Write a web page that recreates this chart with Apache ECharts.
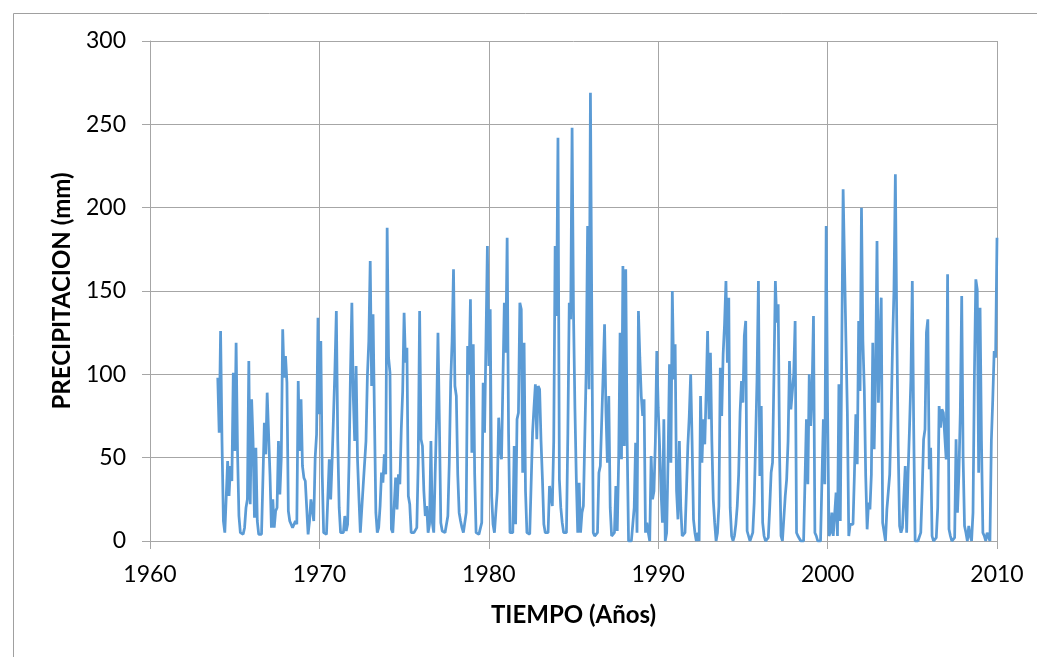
<!DOCTYPE html>
<html>
<head>
<meta charset="utf-8">
<script src="https://cdn.jsdelivr.net/npm/echarts@6/dist/echarts.min.js"></script>
<style>
  html, body { margin: 0; padding: 0; background: #fff; }
  #chart { width: 1037px; height: 657px; }
</style>
</head>
<body>
<div id="chart"></div>
<script>
  // precipitacion mensual (mm), desde enero 1964
  var startYear = 1964;
  var p1964_69 = [
    98, 65, 126, 60, 12, 5, 4, 48, 27, 45, 36, 101,
    54, 119, 54, 15, 5, 4, 4, 8, 20, 25, 108, 22,
    85, 60, 14, 56, 12, 4, 4, 4, 5, 71, 52, 89,
    88, 40, 8, 25, 8, 18, 20, 60, 28, 50, 127, 98,
    111, 95, 18, 12, 12, 8, 8, 12, 10, 96, 54, 85,
    45, 38, 36, 20, 4, 12, 25, 25, 12, 50, 64, 134
  ];
  var p1970s = [
    76, 120, 40, 5, 4, 4, 5, 49, 25, 48, 75, 103,
    138, 60, 20, 5, 5, 5, 15, 6, 10, 47, 100, 143,
    87, 60, 105, 49, 26, 5, 4, 33, 34, 60, 99, 120,
    168, 93, 136, 75, 17, 5, 8, 21, 41, 35, 52, 40,
    188, 110, 101, 7, 5, 5, 38, 19, 40, 34, 67, 90,
    137, 107, 116, 27, 22, 5, 4, 5, 5, 8, 47, 138,
    61, 57, 30, 15, 21, 5, 10, 60, 11, 5, 40, 73,
    125, 71, 11, 6, 6, 5, 5, 15, 47, 95, 120, 163,
    93, 87, 40, 17, 12, 8, 5, 5, 17, 117, 100, 145,
    53, 118, 40, 5, 4, 4, 5, 11, 95, 65, 120, 177
  ];
  var p1980s = [
    105, 139, 27, 10, 5, 5, 30, 74, 55, 49, 48, 143,
    113, 182, 65, 5, 5, 5, 57, 10, 73, 77, 143, 139,
    41, 119, 30, 5, 4, 4, 5, 65, 80, 94, 61, 93,
    91, 60, 37, 10, 5, 5, 5, 33, 34, 21, 60, 177,
    135, 242, 37, 20, 11, 5, 5, 5, 65, 143, 133, 248,
    137, 80, 37, 5, 35, 5, 17, 21, 21, 103, 189, 91,
    269, 130, 5, 3, 3, 5, 41, 45, 45, 100, 130, 77,
    47, 87, 20, 3, 3, 5, 33, 6, 49, 125, 49, 165,
    57, 163, 60, 0, 0, 0, 0, 20, 59, 5, 138, 110,
    87, 75, 85, 5, 11, 5, 0, 51, 25, 30, 60, 114
  ];
  var p1990s = [
    80, 57, 30, 11, 73, 0, 5, 50, 106, 47, 150, 97,
    118, 30, 13, 60, 20, 3, 3, 5, 30, 57, 75, 100,
    60, 13, 5, 0, 5, 0, 87, 47, 73, 58, 90, 126,
    73, 113, 60, 25, 11, 0, 5, 21, 104, 75, 112, 130,
    156, 107, 146, 20, 3, 0, 3, 10, 21, 40, 77, 96,
    83, 123, 132, 6, 3, 0, 0, 5, 23, 60, 97, 156,
    39, 81, 11, 3, 0, 0, 2, 20, 41, 47, 100, 156,
    131, 142, 51, 3, 0, 0, 27, 37, 60, 108, 79, 79,
    100, 132, 5, 3, 2, 0, 0, 0, 0, 73, 34, 100,
    69, 90, 135, 5, 3, 0, 0, 0, 0, 73, 34, 189
  ];
  var p2000s = [
    77, 3, 5, 17, 3, 3, 29, 3, 94, 12, 11, 211,
    210, 120, 77, 3, 10, 10, 10, 40, 76, 46, 132, 90,
    200, 120, 91, 39, 7, 23, 19, 40, 119, 55, 100, 180,
    83, 120, 146, 11, 10, 0, 19, 19, 40, 75, 117, 150,
    220, 129, 57, 9, 5, 8, 8, 45, 5, 40, 67, 97,
    156, 67, 0, 0, 0, 0, 5, 30, 61, 67, 125, 133,
    43, 56, 3, 0, 0, 2, 20, 81, 68, 79, 77, 77,
    49, 160, 7, 3, 0, 0, 2, 61, 17, 40, 77, 147,
    50, 9, 5, 0, 9, 3, 0, 17, 100, 157, 151, 41,
    140, 60, 5, 3, 0, 5, 5, 0, 60, 85, 114, 110,
    182
  ];
  var xTicks = [1960, 1970, 1980, 1990, 2000, 2010];
  var yTicks = [0, 50, 100, 150, 200, 250, 300];

  var monthly = p1964_69.concat(p1970s, p1980s, p1990s, p2000s);
  var seriesData = monthly.map(function (v, i) {
    return [startYear + i / 12, v];
  });

  var gridColor = '#a6a6a6';
  var font = 'Lato, "Liberation Sans", sans-serif';

  var myChart = echarts.init(document.getElementById('chart'));
  var option = {
    backgroundColor: '#fff',
    animation: false,
    graphic: [{
      type: 'rect',
      left: 11,
      top: 11,
      shape: { width: 1060, height: 680 },
      style: { fill: 'none', stroke: '#a0a0a0', lineWidth: 1 },
      silent: true
    }],
    grid: {
      left: 150,
      right: 40,
      top: 41,
      bottom: 116,
      containLabel: false
    },
    xAxis: {
      type: 'value',
      min: xTicks[0],
      max: xTicks[xTicks.length - 1],
      interval: 10,
      name: 'TIEMPO (Años)',
      nameLocation: 'middle',
      nameGap: 62,
      nameTextStyle: { fontFamily: font, fontWeight: 'bold', fontSize: 24, color: '#000' },
      axisLine: { show: true, lineStyle: { color: gridColor, width: 1 } },
      axisTick: { show: true, inside: false, length: 8, lineStyle: { color: gridColor } },
      axisLabel: {
        fontFamily: font, fontSize: 23, color: '#000', margin: 22,
        formatter: function (v) { return String(v); }
      },
      splitLine: { show: true, lineStyle: { color: gridColor, width: 1 } }
    },
    yAxis: {
      type: 'value',
      min: yTicks[0],
      max: yTicks[yTicks.length - 1],
      interval: 50,
      name: 'PRECIPITACION (mm)',
      nameLocation: 'middle',
      nameGap: 76,
      nameRotate: 90,
      nameTextStyle: { fontFamily: font, fontWeight: 'bold', fontSize: 24, color: '#000' },
      axisLine: { show: true, lineStyle: { color: gridColor, width: 1 } },
      axisTick: { show: true, inside: false, length: 8, lineStyle: { color: gridColor } },
      axisLabel: { fontFamily: font, fontSize: 23, color: '#000', margin: 24 },
      splitLine: { show: true, lineStyle: { color: gridColor, width: 1 } }
    },
    series: [{
      name: 'Precipitacion',
      type: 'line',
      data: seriesData,
      showSymbol: false,
      smooth: false,
      lineStyle: { color: '#5b9bd5', width: 2.75 },
      itemStyle: { color: '#5b9bd5' }
    }]
  };
  myChart.setOption(option);
</script>
</body>
</html>
